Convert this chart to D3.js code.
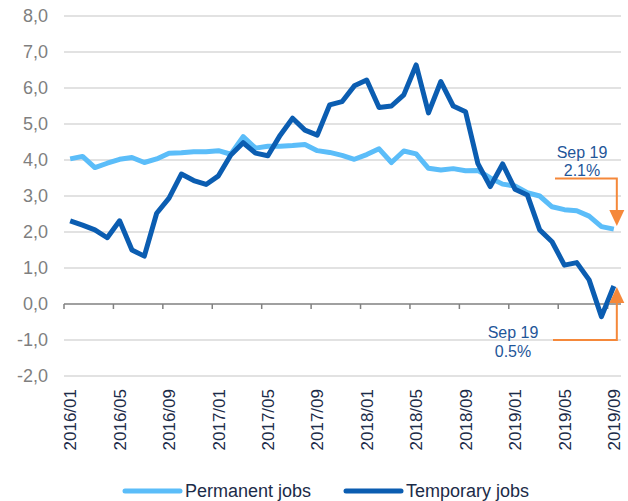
<!DOCTYPE html>
<html>
<head>
<meta charset="utf-8">
<script src="https://cdn.jsdelivr.net/npm/d3@7"></script>
<style>
  body { margin: 0; background: #fff; }
  svg { display: block; font-family: "Liberation Sans", Arial, sans-serif; }
</style>
</head>
<body>
<svg id="chart" width="628" height="501"></svg>
<script>
// Months (categories)
var months = [
  '2016/01','2016/02','2016/03','2016/04','2016/05','2016/06','2016/07','2016/08','2016/09','2016/10','2016/11','2016/12',
  '2017/01','2017/02','2017/03','2017/04','2017/05','2017/06','2017/07','2017/08','2017/09','2017/10','2017/11','2017/12',
  '2018/01','2018/02','2018/03','2018/04','2018/05','2018/06','2018/07','2018/08','2018/09','2018/10','2018/11','2018/12',
  '2019/01','2019/02','2019/03','2019/04','2019/05','2019/06','2019/07','2019/08','2019/09'
];

// Permanent jobs, yoy %
var permanent = [
  4.03, 4.10, 3.79, 3.91, 4.02, 4.07, 3.93, 4.03, 4.19, 4.20, 4.23, 4.23,
  4.26, 4.16, 4.65, 4.33, 4.38, 4.38, 4.40, 4.43, 4.26, 4.21, 4.13, 4.02,
  4.15, 4.31, 3.93, 4.25, 4.17, 3.77, 3.72, 3.76, 3.70, 3.71, 3.50, 3.33,
  3.28, 3.09, 3.00, 2.70, 2.62, 2.59, 2.44, 2.15, 2.08
];

// Temporary jobs, yoy %
var temporary = [
  2.31, 2.19, 2.06, 1.84, 2.31, 1.50, 1.33, 2.52, 2.94, 3.61, 3.43, 3.32,
  3.56, 4.14, 4.48, 4.19, 4.12, 4.69, 5.16, 4.83, 4.69, 5.53, 5.62, 6.06,
  6.22, 5.46, 5.50, 5.81, 6.64, 5.31, 6.18, 5.50, 5.34, 3.90, 3.26, 3.89,
  3.19, 3.03, 2.06, 1.73, 1.08, 1.15, 0.67, -0.35, 0.50
];

var yTicks = [8, 7, 6, 5, 4, 3, 2, 1, 0, -1, -2];
var seriesNames = ['Permanent jobs', 'Temporary jobs'];
var seriesColors = ['#5bbdf9', '#0b5db1'];

// Annotations (last point of each series)
var notes = [
  { label: 'Sep 19', value: '2.1%', series: 0 },
  { label: 'Sep 19', value: '0.5%', series: 1 }
];

var svg = d3.select('#chart');
var plotLeft = 64, plotRight = 620, plotTop = 16, plotBottom = 376;

var x = d3.scaleBand().domain(months).range([plotLeft, plotRight]).padding(0);
var y = d3.scaleLinear().domain([-2, 8]).range([plotBottom, plotTop]);
var cx = function(m) { return x(m) + x.bandwidth() / 2; };

// excel style: comma decimal, plain hyphen for minus
var fmt = function(v) { return v.toFixed(1).replace('.', ','); };

// gridlines
svg.append('g')
  .selectAll('line')
  .data(yTicks.filter(function(d) { return d !== 0; }))
  .join('line')
  .attr('x1', plotLeft).attr('x2', plotRight + 1)
  .attr('y1', function(d) { return y(d); })
  .attr('y2', function(d) { return y(d); })
  .attr('stroke', '#d9d9d9')
  .attr('stroke-width', 1.3);

// y labels
svg.append('g')
  .selectAll('text')
  .data(yTicks)
  .join('text')
  .attr('x', 48)
  .attr('y', function(d) { return y(d); })
  .attr('dy', '0.35em')
  .attr('text-anchor', 'end')
  .attr('fill', '#7f7f7f')
  .style('font-size', '18px')
  .text(fmt);

// zero axis line with ticks at category boundaries
var zero = svg.append('g');
zero.append('line')
  .attr('x1', plotLeft).attr('x2', plotRight + 1)
  .attr('y1', y(0)).attr('y2', y(0))
  .attr('stroke', '#808080').attr('stroke-width', 1.5);

var tickMonths = months.filter(function(d, i) { return i % 4 === 0; });
zero.selectAll('line.tick')
  .data(tickMonths)
  .join('line')
  .attr('class', 'tick')
  .attr('x1', function(d) { return x(d); })
  .attr('x2', function(d) { return x(d); })
  .attr('y1', y(0)).attr('y2', y(0) + 5)
  .attr('stroke', '#808080').attr('stroke-width', 1.5);

// x labels (rotated)
var xAxis = svg.append('g')
  .attr('transform', 'translate(0,' + 389 + ')')
  .call(d3.axisBottom(x).tickValues(tickMonths).tickSize(0));
xAxis.select('.domain').remove();
xAxis.selectAll('text')
  .attr('transform', 'rotate(-90)')
  .attr('x', 0).attr('y', 0).attr('dy', '0.36em')
  .attr('text-anchor', 'end')
  .attr('fill', '#1c2b48')
  .style('font-size', '17px')
  .style('font-family', '"Liberation Sans", Arial, sans-serif');

// lines
var line = d3.line()
  .x(function(d, i) { return cx(months[i]); })
  .y(function(d) { return y(d); });

[permanent, temporary].forEach(function(vals, k) {
  svg.append('path')
    .datum(vals)
    .attr('d', line)
    .attr('fill', 'none')
    .attr('stroke', seriesColors[k])
    .attr('stroke-width', 5)
    .attr('stroke-linejoin', 'round');
});

// annotations
var orange = '#f5883a';
var last = months[months.length - 1];
var ax = cx(last) + 3;

// upper one: from label down to permanent line
var n0 = notes[0];
var v0 = permanent[permanent.length - 1];
svg.append('text').attr('x', 582).attr('y', 152).attr('dy', '0.35em')
  .attr('text-anchor', 'middle').attr('fill', '#1f5699').style('font-size', '16px').text(n0.label);
svg.append('text').attr('x', 582).attr('y', 170).attr('dy', '0.35em')
  .attr('text-anchor', 'middle').attr('fill', '#1f5699').style('font-size', '16px').text(n0.value);
svg.append('path')
  .attr('d', 'M555,178.5 H' + ax + ' V' + (y(v0) - 18))
  .attr('fill', 'none').attr('stroke', orange).attr('stroke-width', 2);
svg.append('path')
  .attr('d', 'M' + (ax - 7.5) + ',' + (y(v0) - 19) + ' L' + (ax + 7.5) + ',' + (y(v0) - 19) + ' L' + ax + ',' + (y(v0) - 3) + 'Z')
  .attr('fill', orange);

// lower one: from -1 line up to temporary line
var n1 = notes[1];
var v1 = temporary[temporary.length - 1];
svg.append('text').attr('x', 513).attr('y', 332).attr('dy', '0.35em')
  .attr('text-anchor', 'middle').attr('fill', '#1f5699').style('font-size', '16px').text(n1.label);
svg.append('text').attr('x', 513).attr('y', 351).attr('dy', '0.35em')
  .attr('text-anchor', 'middle').attr('fill', '#1f5699').style('font-size', '16px').text(n1.value);
svg.append('path')
  .attr('d', 'M553,' + y(-1) + ' H' + ax + ' V' + (y(v1) + 16))
  .attr('fill', 'none').attr('stroke', orange).attr('stroke-width', 2);
svg.append('path')
  .attr('d', 'M' + (ax - 7.5) + ',' + (y(v1) + 17) + ' L' + (ax + 7.5) + ',' + (y(v1) + 17) + ' L' + ax + ',' + (y(v1) + 1) + 'Z')
  .attr('fill', orange);

// legend
var legendX = [125, 346];
var legend = svg.append('g').attr('transform', 'translate(0,491)');
seriesNames.forEach(function(name, k) {
  legend.append('line')
    .attr('x1', legendX[k]).attr('x2', legendX[k] + 55)
    .attr('stroke', seriesColors[k]).attr('stroke-width', 5)
    .attr('stroke-linecap', 'round');
  legend.append('text')
    .attr('x', legendX[k] + 60).attr('dy', '0.35em')
    .attr('fill', '#1c2b48').style('font-size', '18px')
    .text(name);
});
</script>
</body>
</html>
